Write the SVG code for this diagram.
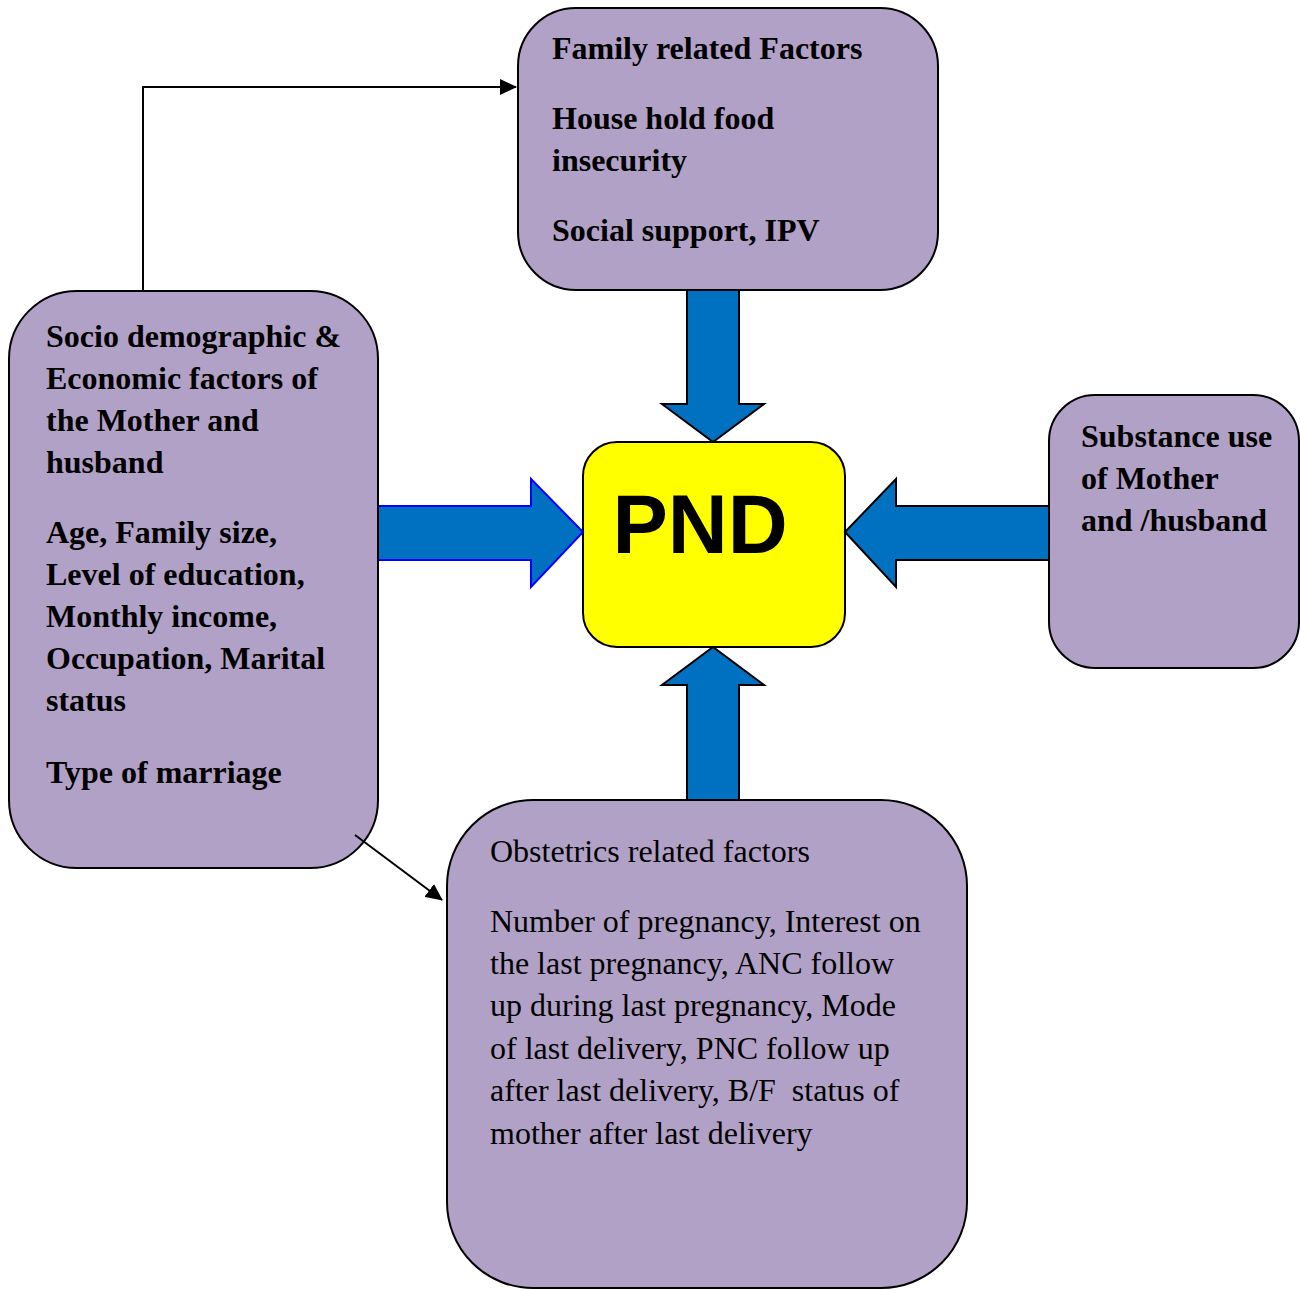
<svg xmlns="http://www.w3.org/2000/svg" width="1300" height="1289" viewBox="0 0 1300 1289">
<style>
.box{fill:#B2A1C7;stroke:#000;stroke-width:2}
.t{font-family:"Liberation Serif","Times New Roman",serif;font-size:32px;fill:#000}
.b{font-weight:bold}
.bf{fill:#0070C0;stroke:none}
.bs{fill:none;stroke:#000;stroke-width:2;stroke-linejoin:miter}
.con{fill:none;stroke:#000;stroke-width:2}
</style>
<defs>
<marker id="ah2" markerWidth="17" markerHeight="16" refX="16" refY="8" orient="auto" markerUnits="userSpaceOnUse" viewBox="0 0 17 16">
<path d="M0,0 L17,8 L0,16 z" fill="#000"/>
</marker>
</defs>
<rect width="1300" height="1289" fill="#fff"/>
<g id="family">
<rect class="box" x="518" y="8" width="420" height="282" rx="58" ry="58"/>
<text class="t b" x="552" y="59">Family related Factors</text>
<text class="t b" x="552" y="129">House hold food</text>
<text class="t b" x="552" y="171">insecurity</text>
<text class="t b" x="552" y="241">Social support, IPV</text>
</g>
<g id="socio">
<rect class="box" x="9" y="291" width="369" height="577" rx="68" ry="68"/>
<text class="t b" x="46" y="347">Socio demographic &amp;</text>
<text class="t b" x="46" y="389">Economic factors of</text>
<text class="t b" x="46" y="431">the Mother and</text>
<text class="t b" x="46" y="473">husband</text>
<text class="t b" x="46" y="543">Age, Family size,</text>
<text class="t b" x="46" y="585">Level of education,</text>
<text class="t b" x="46" y="627">Monthly income,</text>
<text class="t b" x="46" y="669">Occupation, Marital</text>
<text class="t b" x="46" y="711">status</text>
<text class="t b" x="46" y="783">Type of marriage</text>
</g>
<g id="substance">
<rect class="box" x="1049" y="395" width="250" height="273" rx="46" ry="46"/>
<text class="t b" x="1081" y="447">Substance use</text>
<text class="t b" x="1081" y="489">of Mother</text>
<text class="t b" x="1081" y="531">and /husband</text>
</g>
<g id="pnd">
<rect x="583" y="442" width="262" height="205" rx="34" ry="34" fill="#FFFF00" stroke="#000" stroke-width="2"/>
<text x="700" y="553" text-anchor="middle" font-family="'Liberation Sans',Arial,sans-serif" font-weight="bold" font-size="83" fill="#000">PND</text>
</g>
<g id="obstetrics">
<rect class="box" x="447" y="800" width="520" height="488" rx="86" ry="86"/>
<text class="t" x="490" y="862">Obstetrics related factors</text>
<text class="t" x="490" y="932">Number of pregnancy, Interest on</text>
<text class="t" x="490" y="974">the last pregnancy, ANC follow</text>
<text class="t" x="490" y="1016">up during last pregnancy, Mode</text>
<text class="t" x="490" y="1059">of last delivery, PNC follow up</text>
<text class="t" x="490" y="1101" xml:space="preserve">after last delivery, B/F  status of</text>
<text class="t" x="490" y="1144">mother after last delivery</text>
</g>
<g id="connectors">
<polyline class="con" points="143,290 143,87 516,87" marker-end="url(#ah2)"/>
<line class="con" x1="355" y1="835" x2="442" y2="900" marker-end="url(#ah2)"/>
<path class="bf" d="M687,291 L739,291 L739,404 L764,404 L713,442 L662,404 L687,404 Z"/>
<path class="bs" d="M739,291 L739,404 L764,404 L713,442 L662,404 L687,404 L687,291"/>
<path class="bf" d="M687,799 L739,799 L739,685 L764,685 L713,647 L662,685 L687,685 Z"/>
<path class="bs" d="M739,799 L739,685 L764,685 L713,647 L662,685 L687,685 L687,799"/>
<path class="bf" d="M379,506 L531,506 L531,479 L583,532 L531,587 L531,560 L379,560 Z"/>
<path class="bs" style="stroke:#0000FF" d="M379,506 L531,506 L531,479 L583,532 L531,587 L531,560 L379,560"/>
<path class="bf" d="M1048,506 L896,506 L896,479 L845,532 L896,587 L896,560 L1048,560 Z"/>
<path class="bs" d="M1048,506 L896,506 L896,479 L845,532 L896,587 L896,560 L1048,560"/>
</g>
</svg>
